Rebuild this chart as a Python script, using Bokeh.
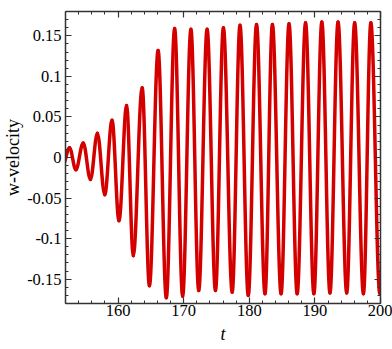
import numpy as np
from bokeh.plotting import figure
from bokeh.models import LinearAxis, FixedTicker, Range1d, ColumnDataSource
from bokeh.embed import file_html
from bokeh.resources import INLINE

# ---- data (extrema of the w-velocity signal) ----
peak_t = [152.61, 154.70, 156.86, 159.09, 161.31, 163.68, 166.11, 168.63, 171.11, 173.58,
          176.06, 178.59, 181.11, 183.53, 186.06, 188.58, 191.06, 193.53, 196.06, 198.53]
peak_w = [0.012, 0.018, 0.030, 0.046, 0.064, 0.086, 0.132, 0.159, 0.158, 0.158,
          0.160, 0.163, 0.164, 0.164, 0.165, 0.166, 0.167, 0.167, 0.166, 0.166]
trough_t = [151.60, 153.58, 155.80, 157.98, 160.15, 162.33, 164.79, 167.36, 169.85, 172.30,
            174.85, 177.40, 179.85, 182.40, 184.85, 187.30, 189.85, 192.30, 194.85, 197.40, 199.90]
trough_w = [-0.009, -0.015, -0.027, -0.046, -0.078, -0.121, -0.158, -0.173, -0.171, -0.164,
            -0.164, -0.166, -0.170, -0.168, -0.168, -0.168, -0.168, -0.167, -0.167, -0.168, -0.168]

x_ticks = [160, 170, 180, 190, 200]
x_tick_labels = ["160", "170", "180", "190", "200"]
y_ticks = [-0.15, -0.1, -0.05, 0.0, 0.05, 0.1, 0.15]
y_tick_labels = ["-0.15", "-0.1", "-0.05", "0", "0.05", "0.1", "0.15"]
x_label = "t"
y_label = "w-velocity"

# ---- smooth curve between consecutive extrema (cubic Bezier, horizontal tangents) ----
T = []
W = []
for i in range(len(peak_t)):
    T += [trough_t[i], peak_t[i]]
    W += [trough_w[i], peak_w[i]]
T.append(trough_t[-1])
W.append(trough_w[-1])
T = np.array(T)
W = np.array(W)
k = 1 - 2 / np.pi
dt = T[1:] - T[:-1]
src = ColumnDataSource(dict(
    x0=T[:-1], y0=W[:-1], x1=T[1:], y1=W[1:],
    cx0=T[:-1] + k * dt, cy0=W[:-1],
    cx1=T[1:] - k * dt, cy1=W[1:],
))

FONT = "'Liberation Serif'"
AX = "#333333"

p = figure(width=392, height=349,
           x_range=Range1d(152, 200), y_range=Range1d(-0.18, 0.18),
           output_backend="svg", toolbar_location=None,
           min_border_left=63, min_border_right=12, min_border_top=11, min_border_bottom=46)
p.grid.visible = False
p.outline_line_color = None
p.background_fill_color = "white"
p.border_fill_color = "white"

p.bezier(x0="x0", y0="y0", x1="x1", y1="y1", cx0="cx0", cy0="cy0", cx1="cx1", cy1="cy1",
         source=src, line_color="#d40000", line_width=3.5, line_cap="round")

xminor = list(np.arange(152, 201, 2))
yminor = list(np.round(np.arange(-0.18, 0.181, 0.01), 2))

top = LinearAxis()
right = LinearAxis()
p.add_layout(top, "above")
p.add_layout(right, "right")
bottom = p.below[0]
left = p.left[0]

def style(ax, ticks, minor, labels, show):
    ax.ticker = FixedTicker(ticks=ticks, minor_ticks=minor)
    ax.major_tick_in = 6
    ax.major_tick_out = 0
    ax.minor_tick_in = 3
    ax.minor_tick_out = 0
    ax.axis_line_color = AX
    ax.axis_line_width = 1.5
    ax.major_tick_line_color = AX
    ax.major_tick_line_width = 1.2
    ax.minor_tick_line_color = AX
    ax.minor_tick_line_width = 1
    if show:
        ax.major_label_overrides = {t: l for t, l in zip(ticks, labels)}
        ax.major_label_text_font = FONT
        ax.major_label_text_font_size = "16.5px"
        ax.major_label_text_color = "black"
    else:
        ax.major_label_text_color = None
        ax.major_label_text_font_size = "0px"
        ax.major_label_standoff = 0

style(bottom, x_ticks, xminor, x_tick_labels, True)
style(left, y_ticks, yminor, y_tick_labels, True)
style(top, x_ticks, xminor, x_tick_labels, False)
style(right, y_ticks, yminor, y_tick_labels, False)

bottom.major_label_standoff = 1
left.major_label_standoff = 4
bottom.axis_label = x_label
bottom.axis_label_text_font = FONT
bottom.axis_label_text_font_style = "italic"
bottom.axis_label_text_font_size = "18px"
bottom.axis_label_text_color = "black"
bottom.axis_label_standoff = 5

left.axis_label = y_label
left.axis_label_text_font = FONT
left.axis_label_text_font_style = "normal"
left.axis_label_text_font_size = "18px"
left.axis_label_text_color = "black"
left.axis_label_standoff = 1

open("out.html", "w").write(file_html(p, INLINE))
